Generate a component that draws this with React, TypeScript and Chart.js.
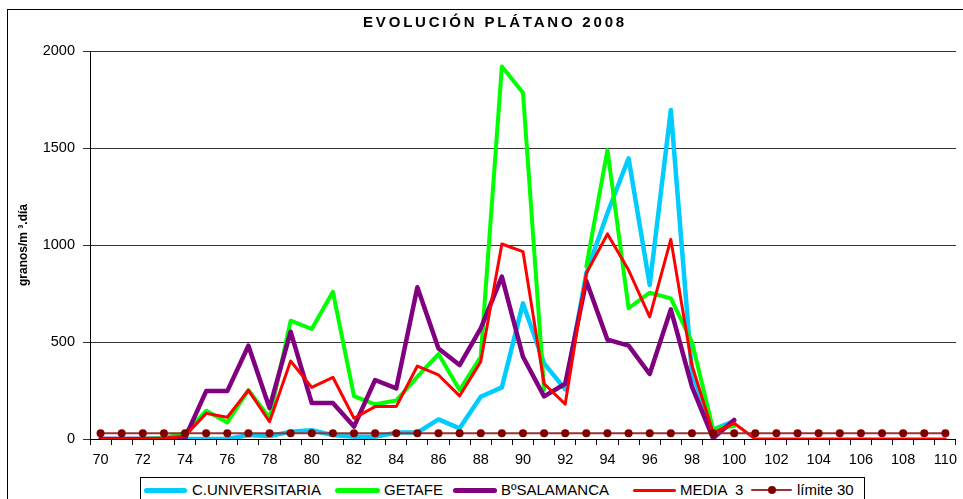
import React, { useEffect, useRef } from 'react';
import { Chart, registerables } from 'chart.js';

Chart.register(...registerables);

const days = ['70','71','72','73','74','75','76','77','78','79','80','81','82','83','84','85','86','87','88','89','90','91','92','93','94','95','96','97','98','99','100','101','102','103','104','105','106','107','108','109','110'];

const cUniversitaria = [0,0,0,0,0,0,0,20,15,38,45,20,12,12,33,33,101,55,218,266,699,390,256,854,1165,1447,794,1696,340,48,92,null,null,null,null,null,null,null,null,null,null];
const getafe = [0,0,0,5,30,145,85,252,108,610,567,759,221,179,198,321,438,252,424,1920,1785,252,null,890,1490,674,754,725,500,50,67,null,null,null,null,null,null,null,null,null,null];
const salamanca = [0,0,0,0,5,247,247,481,160,553,185,185,64,304,261,782,467,381,570,837,424,220,285,815,512,481,335,668,270,4,98,null,null,null,null,null,null,null,null,null,null];
const media3 = [0,0,0,3,15,132,112,252,89,402,266,318,107,167,167,376,330,222,399,1005,966,285,180,854,1057,871,629,1029,380,32,81,0,0,0,0,0,0,0,0,0,0];
const limite30 = [30,30,30,30,30,30,30,30,30,30,30,30,30,30,30,30,30,30,30,30,30,30,30,30,30,30,30,30,30,30,30,30,30,30,30,30,30,30,30,30,30];

const yTicks = [0, 500, 1000, 1500, 2000];

const seriesNames = ['C.UNIVERSITARIA', 'GETAFE', 'BºSALAMANCA', 'MEDIA  3', 'límite 30'];
const seriesColors = ['#00CCFF', '#00FF00', '#800080', '#FF0000', '#993333'];

const FONT = "'Liberation Sans', Arial, sans-serif";

export default function App() {
  const canvasRef = useRef<HTMLCanvasElement | null>(null);

  useEffect(() => {
    const canvas = canvasRef.current;
    if (!canvas) return;
    const chart = new Chart(canvas, {
      type: 'line',
      data: {
        labels: days,
        datasets: [
          { label: seriesNames[0], data: cUniversitaria, borderColor: seriesColors[0], backgroundColor: seriesColors[0], borderWidth: 4.5, pointRadius: 0, order: 5 },
          { label: seriesNames[1], data: getafe, borderColor: seriesColors[1], backgroundColor: seriesColors[1], borderWidth: 4, pointRadius: 0, order: 4 },
          { label: seriesNames[2], data: salamanca, borderColor: seriesColors[2], backgroundColor: seriesColors[2], borderWidth: 4.5, pointRadius: 0, order: 3 },
          { label: seriesNames[3], data: media3, borderColor: seriesColors[3], backgroundColor: seriesColors[3], borderWidth: 3, pointRadius: 0, order: 2 },
          { label: seriesNames[4], data: limite30, borderColor: seriesColors[4], backgroundColor: '#800000', borderWidth: 2, pointRadius: 4, pointBackgroundColor: '#800000', pointBorderColor: '#800000', pointBorderWidth: 0, order: 1 },
        ],
      },
      options: {
        animation: false,
        responsive: false,
        devicePixelRatio: 1,
        spanGaps: false,
        elements: { line: { tension: 0, borderJoinStyle: 'round', borderCapStyle: 'round' } },
        layout: { padding: { top: 51, left: 0, right: 0, bottom: 0 } },
        plugins: {
          legend: { display: false },
          title: { display: false },
          tooltip: { enabled: false },
        },
        scales: {
          x: {
            type: 'category',
            offset: true,
            grid: { display: true, drawOnChartArea: false, offset: true, tickLength: 6, color: '#000', lineWidth: 1 },
            border: { display: true, color: '#000', width: 1 },
            ticks: {
              autoSkip: false,
              maxRotation: 0,
              minRotation: 0,
              padding: 6,
              color: '#000',
              font: { family: FONT, size: 14.5 },
              callback: (_v: any, idx: number) => (idx % 2 === 0 ? days[idx] : ''),
            },
            title: {
              display: true,
              text: 'Día juliano',
              color: '#000',
              font: { family: FONT, size: 13, weight: 'bold' },
              padding: { top: 0, bottom: 4 },
            },
            afterFit: (scale: any) => { scale.height = 60; },
          },
          y: {
            min: 0,
            max: 2000,
            afterBuildTicks: (scale: any) => { scale.ticks = yTicks.map((v) => ({ value: v })); },
            grid: { display: true, drawOnChartArea: true, tickLength: 7, color: '#333', lineWidth: 1 },
            border: { display: true, color: '#000', width: 1 },
            ticks: {
              padding: 8,
              color: '#000',
              font: { family: FONT, size: 14.5 },
              callback: (v: any) => String(v),
            },
            title: {
              display: true,
              text: 'granos/m ³.día',
              color: '#000',
              font: { family: FONT, size: 12, weight: 'bold' },
              padding: { top: 16, bottom: 0 },
            },
            afterFit: (scale: any) => { scale.width = 90; },
          },
        },
      },
    } as any);
    return () => chart.destroy();
  }, []);

  const legendItems = [
    { name: seriesNames[0], color: seriesColors[0], lx: 144, lw: 43, th: 5, tx: 192 },
    { name: seriesNames[1], color: seriesColors[1], lx: 335, lw: 45, th: 5, tx: 384 },
    { name: seriesNames[2], color: seriesColors[2], lx: 453, lw: 44, th: 5, tx: 501 },
    { name: seriesNames[3], color: seriesColors[3], lx: 633, lw: 43, th: 3, tx: 680 },
    { name: seriesNames[4], color: seriesColors[4], lx: 751, lw: 41, th: 2, tx: 797, marker: true },
  ];

  return (
    <div style={{ position: 'fixed', left: 0, top: 0, width: 963, height: 499, overflow: 'hidden', background: '#fff' }}>
      <div style={{ position: 'absolute', left: 7, top: 9, width: 1000, height: 600, border: '1px solid #000', boxSizing: 'border-box' }} />
      <canvas ref={canvasRef} width={963} height={499} style={{ position: 'absolute', left: 0, top: 0, width: 963, height: 499 }} />
      <div style={{ position: 'absolute', left: 0, top: 13, width: 990, textAlign: 'center', fontFamily: FONT, fontWeight: 'bold', fontSize: 15, lineHeight: '17px', letterSpacing: 2.8, color: '#000' }}>
        EVOLUCIÓN PLÁTANO 2008
      </div>
      <div style={{ position: 'absolute', left: 140, top: 477, width: 725, height: 40, border: '1px solid #000', background: '#fff', boxSizing: 'border-box' }} />
      {legendItems.map((it) => (
        <React.Fragment key={it.name}>
          <div style={{ position: 'absolute', left: it.lx, top: 490 - it.th / 2, width: it.lw, height: it.th, background: it.color, borderRadius: it.th / 2 }} />
          {it.marker ? (
            <div style={{ position: 'absolute', left: it.lx + it.lw / 2 - 4, top: 486, width: 8, height: 8, borderRadius: 4, background: '#800000' }} />
          ) : null}
          <div style={{ position: 'absolute', left: it.tx, top: 481, fontFamily: FONT, fontSize: 15, lineHeight: '18px', color: '#000', whiteSpace: 'pre' }}>
            {it.name}
          </div>
        </React.Fragment>
      ))}
    </div>
  );
}
